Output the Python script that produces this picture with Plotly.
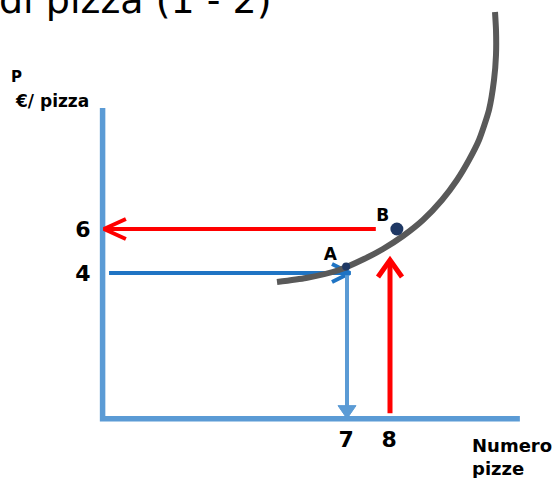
import plotly.graph_objects as go

# ---------------- data ----------------
quantities = [7, 8]            # Numero pizze (ticks on x)
prices = [4, 6]                # €/pizza (ticks on y)
point_labels = ["A", "B"]
points_q = [6.98, 8.16]
points_p = [4.3, 6.0]
curve_q = [5.372, 6.047, 6.814, 7.395, 7.837, 8.302, 8.767, 9.209, 9.558, 9.837,
           10.070, 10.302, 10.419, 10.465, 10.465, 10.442]
curve_p = [3.591, 3.773, 4.136, 4.636, 5.091, 5.682, 6.409, 7.318, 8.227, 9.136,
           10.045, 11.409, 12.773, 13.909, 15.045, 15.864]
title_text = "di pizza (1 - 2)"
y_title = ["P", "€/ pizza"]
x_title = "Numero<br>pizze"

# ---------------- layout constants ----------------
W, H = 559, 478
XR = [-1.0698, 11.9302]
YR = [-5.318, 16.409]
AX_Q0, AX_Q1 = 1.316, 11.02      # y-axis position / x-axis end
AX_P0, AX_P1 = -2.62, 11.5       # x-axis position / y-axis top

AXIS_BLUE = "#5B9BD5"
DARK_BLUE = "#1F74C4"
RED = "#FF0000"
GREY = "#595959"
NAVY = "#1F3864"
FONT = "DejaVu Sans"


def to_px(q, p):
    return ((q - XR[0]) / (XR[1] - XR[0]) * W, (YR[1] - p) / (YR[1] - YR[0]) * H)


def to_data(x, y):
    return (XR[0] + x / W * (XR[1] - XR[0]), YR[1] - y / H * (YR[1] - YR[0]))


fig = go.Figure()


def arrow(tail, tip, color, width, head_len, head_half, filled=False):
    fig.add_trace(go.Scatter(x=[tail[0], tip[0]], y=[tail[1], tip[1]], mode="lines",
                             line=dict(color=color, width=width), hoverinfo="skip"))
    tx, ty = to_px(*tip)
    sx, sy = to_px(*tail)
    dx, dy = tx - sx, ty - sy
    n = (dx ** 2 + dy ** 2) ** 0.5
    ux, uy = dx / n, dy / n
    bx, by = tx - ux * head_len, ty - uy * head_len
    a1 = to_data(bx - uy * head_half, by + ux * head_half)
    a2 = to_data(bx + uy * head_half, by - ux * head_half)
    if filled:
        fig.add_trace(go.Scatter(x=[a1[0], tip[0], a2[0], a1[0]], y=[a1[1], tip[1], a2[1], a1[1]],
                                 mode="lines", fill="toself", fillcolor=color,
                                 line=dict(color=color, width=1), hoverinfo="skip"))
    else:
        fig.add_trace(go.Scatter(x=[a1[0], tip[0], a2[0]], y=[a1[1], tip[1], a2[1]], mode="lines",
                                 line=dict(color=color, width=width), hoverinfo="skip"))


# axes
fig.add_trace(go.Scatter(x=[AX_Q1, AX_Q0, AX_Q0], y=[AX_P0, AX_P0, AX_P1], mode="lines",
                         line=dict(color=AXIS_BLUE, width=5.5), hoverinfo="skip"))

# arrows
qA, qB = quantities
pA, pB = prices
arrow((7.67, pB), (AX_Q0 + 0.03, pB), RED, 4, 22, 10)                 # B price -> axis
arrow((AX_Q0 + 0.15, pA), (qA + 0.07, pA), DARK_BLUE, 4, 18, 9)       # price 4 -> A
arrow((qA, pA - 0.1), (qA, AX_P0), AXIS_BLUE, 4, 13, 9, filled=True)  # A -> quantity 7
arrow((qB, AX_P0 + 0.25), (qB, 4.59), RED, 5, 17, 12)                 # quantity 8 up

# curve
fig.add_trace(go.Scatter(x=curve_q, y=curve_p, mode="lines",
                         line=dict(color=GREY, width=6, shape="spline", smoothing=0.6),
                         hoverinfo="skip"))

# points
fig.add_trace(go.Scatter(x=points_q, y=points_p, mode="markers",
                         marker=dict(color=NAVY, size=[8, 13], opacity=1, line=dict(width=0)),
                         opacity=1, hoverinfo="skip"))
fig.add_trace(go.Scatter(x=[points_q[0] - 0.37, points_q[1] - 0.33],
                         y=[points_p[0] + 0.5, points_p[1] + 0.55],
                         mode="text", text=point_labels,
                         textfont=dict(family=FONT, size=17, color="black", weight="bold"),
                         hoverinfo="skip"))

# tick labels
fig.add_trace(go.Scatter(x=[AX_Q0 - 0.46] * 2, y=[p - 0.1 for p in prices], mode="text",
                         text=[str(v) for v in prices],
                         textfont=dict(family=FONT, size=22, color="black", weight="bold"),
                         hoverinfo="skip"))
fig.add_trace(go.Scatter(x=[q - 0.02 for q in quantities], y=[-3.65] * 2, mode="text",
                         text=[str(v) for v in quantities],
                         textfont=dict(family=FONT, size=22, color="black", weight="bold"),
                         hoverinfo="skip"))

ann = []
ann.append(dict(x=-0.005, y=1.0 - 24 / H, xref="paper", yref="paper", xanchor="left", yanchor="bottom",
                text=title_text, showarrow=False, font=dict(family=FONT, size=38, color="black")))
ann.append(dict(x=9 / W, y=1 - 77 / H, xref="paper", yref="paper", xanchor="left", yanchor="middle",
                text="<b>" + y_title[0] + "</b>", showarrow=False,
                font=dict(family=FONT, size=15, color="black")))
ann.append(dict(x=13 / W, y=1 - 101 / H, xref="paper", yref="paper", xanchor="left", yanchor="middle",
                text="<b>" + y_title[1] + "</b>", showarrow=False,
                font=dict(family=FONT, size=17, color="black")))
ann.append(dict(x=470 / W, y=1 - 457 / H, xref="paper", yref="paper", xanchor="left", yanchor="middle",
                text="<b>" + x_title + "</b>", showarrow=False, align="left",
                font=dict(family=FONT, size=18, color="black")))

fig.update_layout(
    width=W, height=H, margin=dict(l=0, r=0, t=0, b=0),
    paper_bgcolor="white", plot_bgcolor="white", showlegend=False,
    xaxis=dict(range=XR, visible=False, fixedrange=True),
    yaxis=dict(range=YR, visible=False, fixedrange=True),
    annotations=ann,
)

fig.write_html("out.html", config={"displayModeBar": False},
               post_script="document.body.style.margin='0';document.body.style.overflow='hidden';")
